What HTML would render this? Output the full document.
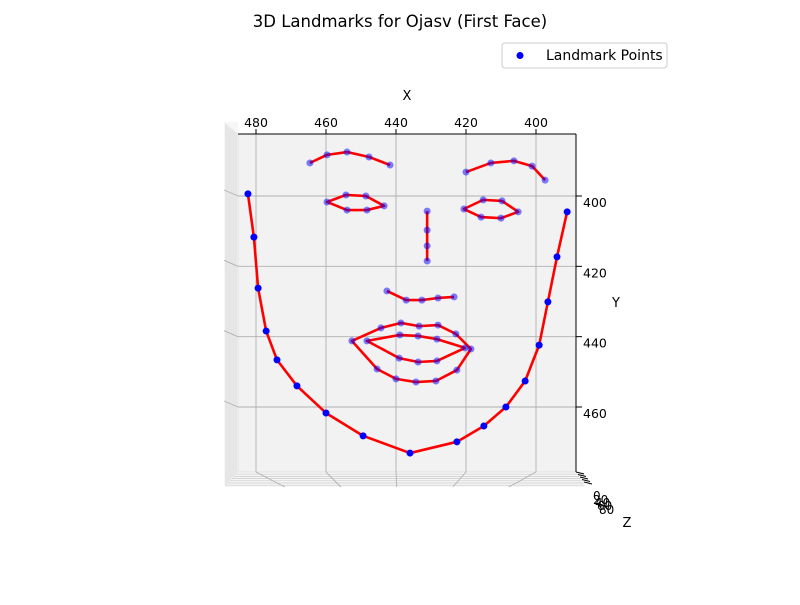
<!DOCTYPE html>
<html><head><meta charset="utf-8"><style>
body{margin:0;background:#fff;font-family:"Liberation Sans","DejaVu Sans",sans-serif}
svg text{font-family:"DejaVu Sans","Liberation Sans",sans-serif}
</style></head><body>
<svg id="c" width="800" height="600" xmlns="http://www.w3.org/2000/svg"></svg>
<script>
const xTicks=[480,460,440,420,400];
const yTicks=[400,420,440,460];
const jawX=[482.3,480.6,479.4,477.1,474,468.3,460,449.4,436,422.6,414.9,408.6,403.1,399.1,396.6,394,391.1];
const jawY=[399.4,411.7,426.2,438.4,446.6,454,461.7,468.2,473.1,469.9,465.4,460,452.6,442.4,430.1,417.3,404.5];
const browRX=[464.6,459.7,454,447.7,441.7];
const browRY=[390.6,388.3,387.5,388.9,391.2];
const browLX=[420,412.9,406.3,401.1,397.4];
const browLY=[393.2,390.6,390,391.5,395.5];
const eyeRX=[459.7,454.3,448.6,443.4,448.3,454];
const eyeRY=[401.7,399.7,400,402.8,404,404];
const eyeLX=[420.6,415.1,409.7,405.1,410,415.7];
const eyeLY=[403.7,401.1,401.4,404.5,406.3,406];
const noseX=[431.1,431.1,431.1,431.1];
const noseY=[404.3,409.7,414.2,418.5];
const noseBX=[442.6,437.1,432.6,428,423.4];
const noseBY=[427,429.6,429.6,429,428.7];
const lipOX=[452.6,444.3,438.6,433.4,428,422.9,418.6,422.6,428.6,434.3,440,445.4];
const lipOY=[441.2,437.5,436.1,437,436.7,439.2,443.5,449.5,452.6,452.9,452,449.2];
const lipIX=[448.3,438.9,433.7,428.3,420.3,428.3,433.7,439.1];
const lipIY=[441.2,439.5,439.8,440.7,443.2,446.9,447.2,446.1];

const S=document.getElementById('c');const NS='http://www.w3.org/2000/svg';
function el(t,a,p){const e=document.createElementNS(NS,t);for(const k in a)e.setAttribute(k,a[k]);(p||S).appendChild(e);return e;}
const sx=v=>256+(480-v)*3.5;
const sy=v=>196+(v-400)*3.5167;
el('rect',{x:224,y:122,width:14,height:365,fill:'#f7f7f7'});
el('rect',{x:224,y:472,width:360,height:15,fill:'#f7f7f7'});
for(let i=0;i<7;i++){
 el('line',{x1:238-i*2,y1:134-i*1.7,x2:238-i*2,y2:472+i*2.2,stroke:'#c8c8c8','stroke-width':0.7});
 el('line',{x1:238-i*2,y1:472+i*2.2,x2:576+i*1.5,y2:472+i*2.2,stroke:'#c8c8c8','stroke-width':0.7});
}
const pane=el('rect',{x:238,y:134,width:338,height:338,fill:'#f2f2f2',stroke:'#e0e0e0'});

xTicks.forEach(v=>{const x=sx(v);
 el('line',{x1:x,y1:134,x2:x,y2:472,stroke:'#b0b0b0','stroke-width':0.9});
 el('line',{x1:x,y1:472,x2:x-(x-400)*0.2,y2:487,stroke:'#b0b0b0','stroke-width':0.9});
 el('line',{x1:x,y1:129,x2:x,y2:134,stroke:'#000'});
 const t=el('text',{x:x,y:127,'font-size':12.5,'text-anchor':'middle'});t.textContent=v;
 
});
yTicks.forEach(v=>{const y=sy(v);
 el('line',{x1:238,y1:y,x2:576,y2:y,stroke:'#b0b0b0','stroke-width':0.9});
 el('line',{x1:224,y1:y-6,x2:238,y2:y,stroke:'#b0b0b0','stroke-width':0.9});
 el('line',{x1:576,y1:y,x2:582,y2:y,stroke:'#000'});
 const t=el('text',{x:583,y:y+11,'font-size':12.5});t.textContent=v;
 
});
el('line',{x1:576,y1:134,x2:576,y2:472,stroke:'#000'});
el('line',{x1:238,y1:134,x2:576,y2:134,stroke:'#000'});
for(let i=0;i<5;i++)el('line',{x1:576+i*2,y1:472+i*2.5,x2:584+i*2,y2:474+i*2.5,stroke:'#000'});
[['0',593,500],['20',593,504],['40',595,507],['60',597,510],['80',599,514]].forEach(a=>{const t=el('text',{x:a[1],y:a[2],'font-size':12});t.textContent=a[0];});
function lab(txt,x,y,n,fs){const t=el('text',{x:x,y:y,'font-size':fs||13,'text-anchor':'middle'});t.textContent=txt;}
lab('X',407,100,'x-axis-title');lab('Y',616,307,'y-axis-title');lab('Z',627,527,'z-axis-title');
lab('3D Landmarks for Ojasv (First Face)',400,27,'chart-title',16.5);
function poly(X,Y,closed,n){
 const pts=X.map((v,i)=>sx(v)+','+sy(Y[i])).join(' ');
 const p=el(closed?'polygon':'polyline',{points:pts,fill:'none',stroke:'#ff0000','stroke-width':2.6,'stroke-linejoin':'round'});
 
}
function dots(X,Y,op,n){X.forEach((v,i)=>{const c=el('circle',{cx:sx(v),cy:sy(Y[i]),r:3.5,fill:'#0000ff','fill-opacity':op});
 });}
poly(jawX,jawY,false,'jaw-line');poly(browRX,browRY,false,'brow-right-line');poly(browLX,browLY,false,'brow-left-line');
poly(eyeRX,eyeRY,true,'eye-right-line');poly(eyeLX,eyeLY,true,'eye-left-line');poly(noseX,noseY,false,'nose-bridge-line');
poly(noseBX,noseBY,false,'nose-bottom-line');poly(lipOX,lipOY,true,'outer-lip-line');poly(lipIX,lipIY,true,'inner-lip-line');
dots(jawX,jawY,1,'jaw-point');
[[browRX,browRY],[browLX,browLY],[eyeRX,eyeRY],[eyeLX,eyeLY],[noseX,noseY],[noseBX,noseBY],[lipOX,lipOY],[lipIX,lipIY]].forEach(a=>dots(a[0],a[1],0.5,'landmark-point'));
const lg=el('g',{});
el('rect',{x:502,y:43,width:165,height:25,rx:3,fill:'#fff',stroke:'#ccc'},lg);
el('circle',{cx:520,cy:55.5,r:3.5,fill:'#0000ff'},lg);
const lt=el('text',{x:546,y:60,'font-size':14},lg);lt.textContent='Landmark Points';
</script>
</body></html>
